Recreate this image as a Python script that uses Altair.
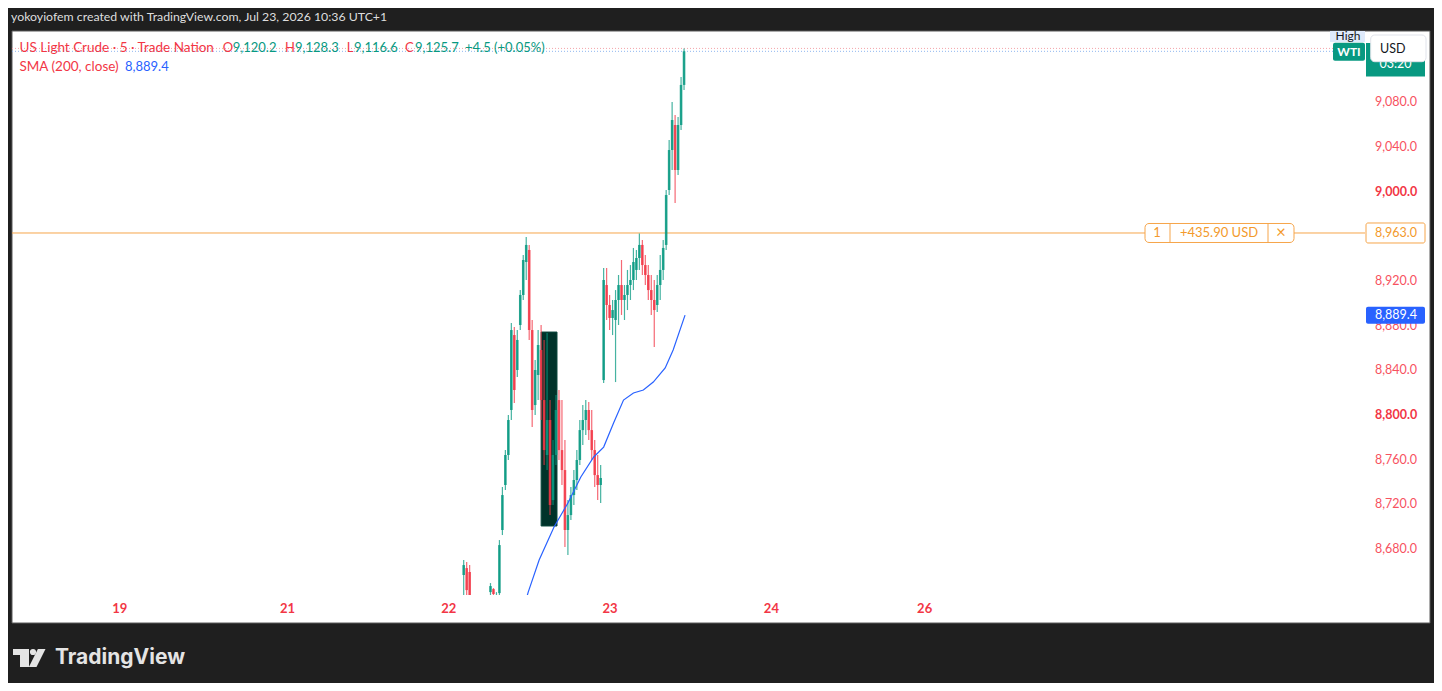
import altair as alt
import numpy as np
import pandas as pd

# ---------------- values ----------------
candle_open = [8656.7, 8662.9, 8659.4, 8634.3, 8625.3, 8616.4, 8616.4, 8625.3, 8629.8, 8641.4,
               8644.1, 8629.8, 8640.5, 8697.0, 8737.3, 8764.2, 8804.5, 8871.6, 8840.3, 8880.6,
               8907.5, 8937.0, 8947.8, 8876.1, 8808.9, 8835.8, 8858.2, 8813.4, 8764.2, 8795.5,
               8723.8, 8764.2, 8813.4, 8768.6, 8750.7, 8697.0, 8710.4, 8728.3, 8741.8, 8759.7,
               8786.5, 8795.5, 8804.5, 8786.5, 8768.6, 8746.2, 8737.3, 8831.3, 8916.4, 8898.5,
               8886.9, 8885.1, 8903.0, 8916.4, 8903.0, 8907.5, 8916.4, 8920.9, 8929.9, 8940.6,
               8952.3, 8934.3, 8925.4, 8911.9, 8903.0, 8898.5, 8916.4, 8929.9, 8952.3, 9001.5,
               9037.3, 9059.7, 9019.4, 9059.7, 9095.6]
candle_high = [8670.1, 8668.3, 8665.6, 8636.1, 8634.3, 8629.8, 8634.3, 8636.1, 8638.8, 8649.5,
               8645.0, 8641.4, 8688.0, 8735.5, 8768.6, 8800.0, 8882.4, 8878.8, 8876.1, 8911.9,
               8943.3, 8959.4, 8952.3, 8885.1, 8849.2, 8876.1, 8880.6, 8867.2, 8873.4, 8813.4,
               8777.6, 8817.9, 8822.4, 8813.4, 8777.6, 8723.8, 8735.5, 8750.7, 8768.6, 8795.5,
               8808.9, 8813.4, 8811.6, 8804.5, 8777.6, 8764.2, 8755.2, 8931.7, 8931.7, 8907.5,
               8903.0, 8911.9, 8925.4, 8938.8, 8916.4, 8929.9, 8934.3, 8949.6, 8947.8, 8962.5,
               8956.7, 8943.3, 8934.3, 8925.4, 8920.9, 8925.4, 8943.3, 8956.7, 9001.5, 9046.3,
               9080.3, 9068.7, 9066.9, 9102.7, 9128.3]
candle_low = [8630.0, 8634.3, 8629.8, 8620.8, 8611.9, 8607.4, 8611.9, 8616.4, 8620.8, 8634.3,
              8634.3, 8625.3, 8632.0, 8692.5, 8732.8, 8759.7, 8795.5, 8810.7, 8834.0, 8876.1,
              8903.0, 8920.9, 8867.2, 8789.2, 8800.0, 8813.4, 8795.5, 8755.2, 8750.7, 8710.4,
              8719.4, 8755.2, 8759.7, 8737.3, 8681.8, 8674.6, 8705.9, 8719.4, 8732.8, 8755.2,
              8773.1, 8782.1, 8777.6, 8759.7, 8735.5, 8723.8, 8721.2, 8828.6, 8885.1, 8876.1,
              8871.6, 8829.5, 8880.6, 8889.6, 8885.1, 8894.0, 8903.0, 8911.9, 8920.9, 8929.9,
              8925.4, 8916.4, 8903.0, 8889.6, 8860.9, 8892.2, 8903.0, 8920.9, 8947.8, 8997.0,
              9019.4, 8989.9, 9015.0, 9055.3, 9091.1]
candle_close = [8665.6, 8643.2, 8636.1, 8625.3, 8616.4, 8611.9, 8625.3, 8629.8, 8634.3, 8646.8,
                8639.7, 8638.8, 8683.5, 8728.3, 8764.2, 8795.5, 8876.1, 8822.4, 8867.2, 8907.5,
                8938.8, 8952.3, 8876.1, 8804.5, 8840.3, 8862.7, 8813.4, 8768.6, 8795.5, 8719.4,
                8764.2, 8804.5, 8768.6, 8750.7, 8697.0, 8710.4, 8728.3, 8741.8, 8759.7, 8786.5,
                8795.5, 8804.5, 8786.5, 8768.6, 8746.2, 8737.3, 8743.6, 8920.9, 8898.5, 8886.9,
                8894.0, 8903.0, 8916.4, 8903.0, 8907.5, 8916.4, 8920.9, 8937.0, 8940.6, 8952.3,
                8934.3, 8925.4, 8911.9, 8903.0, 8894.0, 8916.4, 8929.9, 8949.6, 8997.0, 9037.3,
                9064.2, 9019.4, 9059.7, 9095.6, 9125.7]
bar_start_day = 0.0923      # session days after the "22" mark
bar_step_day = 0.01846      # one drawn candle

sma_day = [0.4615, 0.4923, 0.56, 0.6523, 0.7385, 0.8185, 0.8985, 0.96, 1.0215, 1.0831,
           1.1446, 1.2062, 1.2677, 1.3415, 1.3908, 1.4646]
sma_value = [8625.3, 8641.4, 8670.1, 8699.7, 8721.2, 8744.5, 8762.4, 8771.3, 8792.8, 8813.4,
             8819.7, 8822.4, 8829.5, 8842.1, 8858.2, 8889.4]

zone_day = [0.5723, 0.6708]
zone_price = [8700.6, 8874.3]

position_price = 8963.0
position_qty = "1"
position_pnl = "+435.90 USD"
last_high = 9128.3
last_close = 9125.7
sma_last = 8889.4
countdown = "03:20"

price_ticks = [9080, 9040, 9000, 8920, 8880, 8840, 8800, 8760, 8720, 8680]
day_labels = ["19", "21", "22", "23", "24", "26"]
day_positions = [-2.04, -1.0, 0.0, 1.0, 2.0, 2.95]

byline = "yokoyiofem created with TradingView.com, Jul 23, 2026 10:36 UTC+1"
symbol_title = "US Light Crude · 5 · Trade Nation"
ohlc_letters = ["O", "H", "L", "C"]
ohlc_values = ["9,120.2", "9,128.3", "9,116.6", "9,125.7"]
change_text = "+4.5 (+0.05%)"
sma_title = "SMA (200, close)"

# ---------------- layout / style ----------------
W, H = 1353, 564
FONT = "Lato"
RED = "#f23645"
RED_LIGHT = "#f7525f"
TEAL = "#089981"
BLUE = "#2962ff"
ORANGE = "#f6a54a"
ORANGE_TXT = "#f39a2c"
DARK = "#1f1f1f"

xs = alt.Scale(domain=[-2.677, 5.649], nice=False, zero=False)
ys = alt.Scale(domain=[8638.8, 9143.9], nice=False, zero=False)
ONE = pd.DataFrame({"k": [0]})


def box(x1, x2, y1, y2, fill, stroke=None, radius=0):
    kw = dict(fill=fill, cornerRadius=radius)
    if stroke:
        kw.update(stroke=stroke, strokeWidth=1)
    return alt.Chart(ONE).mark_rect(**kw).encode(
        x=alt.value(x1), x2=alt.value(x2), y=alt.value(y1), y2=alt.value(y2))


def label(txt, x, y, color, size=13, weight="normal", align="left", font=FONT):
    return alt.Chart(ONE).mark_text(text=txt, color=color, fontSize=size, fontWeight=weight,
                                    align=align, baseline="middle", font=font).encode(
        x=alt.value(x), y=alt.value(y))


n = len(candle_open)
candles = pd.DataFrame({
    "day": [bar_start_day + i * bar_step_day for i in range(n)],
    "open": candle_open, "high": candle_high, "low": candle_low, "close": candle_close,
})
candles["dir"] = np.where(candles["close"] >= candles["open"], "up", "down")
color_enc = alt.Color("dir:N", scale=alt.Scale(domain=["up", "down"], range=[TEAL, RED]), legend=None)
X = alt.X("day:Q", scale=xs, axis=None)

layers = []
# chart pane (white) incl. scales
layers.append(box(0, 1418, 0, 592, "white", stroke="#5a5a5a"))

# dotted high / last lines
for p, c in [(last_high, "#f5a3aa"), (last_close, "#8fb6f0")]:
    layers.append(alt.Chart(pd.DataFrame({"p": [p]})).mark_rule(color=c, strokeDash=[1, 2], strokeWidth=1).encode(
        y=alt.Y("p:Q", scale=ys, axis=None), x=alt.value(0), x2=alt.value(1321)))

# position line
pos_df = pd.DataFrame({"p": [position_price]})
layers.append(alt.Chart(pos_df).mark_rule(color=ORANGE, strokeWidth=1).encode(
    y=alt.Y("p:Q", scale=ys, axis=None), x=alt.value(0), x2=alt.value(W)))

# rectangle drawing
zone_df = pd.DataFrame({"d0": [zone_day[0]], "d1": [zone_day[1]], "p0": [zone_price[0]], "p1": [zone_price[1]]})
layers.append(alt.Chart(zone_df).mark_rect(fill="#00332a", stroke="#0d4a3e", strokeWidth=1).encode(
    x=alt.X("d0:Q", scale=xs, axis=None), x2="d1:Q",
    y=alt.Y("p0:Q", scale=ys, axis=None), y2="p1:Q"))

# candles
layers.append(alt.Chart(candles).mark_rule(clip=True, strokeWidth=1.2, opacity=0.75).encode(
    x=X, y=alt.Y("low:Q", scale=ys, axis=None), y2="high:Q", color=color_enc))
layers.append(alt.Chart(candles).mark_bar(clip=True, size=2.6, opacity=0.85).encode(
    x=X, y=alt.Y("open:Q", scale=ys, axis=None), y2="close:Q", color=color_enc))

# SMA
sma_df = pd.DataFrame({"day": sma_day, "v": sma_value})
layers.append(alt.Chart(sma_df).mark_line(clip=True, color=BLUE, strokeWidth=1.2).encode(
    x=X, y=alt.Y("v:Q", scale=ys, axis=None)))

# position label on the line
PY = alt.Y("p:Q", scale=ys, axis=None)
layers.append(alt.Chart(pos_df).mark_rect(fill="white", stroke=ORANGE, strokeWidth=1, cornerRadius=4,
                                          yOffset=-9.5, y2Offset=9.5).encode(
    x=alt.value(1133), x2=alt.value(1282), y=PY, y2="p:Q"))
for xd in (1158, 1256):
    layers.append(alt.Chart(pos_df).mark_rule(color=ORANGE, strokeWidth=1, yOffset=-9.5, y2Offset=9.5).encode(
        x=alt.value(xd), y=PY, y2="p:Q"))
for txt, xc, fs in [(position_qty, 1145, 13), (position_pnl, 1207, 13), ("×", 1269, 17)]:
    layers.append(alt.Chart(pos_df).mark_text(text=txt, color=ORANGE_TXT, fontSize=fs, font=FONT,
                                              align="center", baseline="middle").encode(
        x=alt.value(xc), y=PY))

# price scale labels
ticks_df = pd.DataFrame({"p": price_ticks})
layers.append(alt.Chart(ticks_df).transform_filter("datum.p % 200 != 0").mark_text(
    color=RED_LIGHT, fontSize=12.5, font=FONT, align="left", baseline="middle").encode(
    x=alt.value(1363), y=PY, text=alt.Text("p:Q", format=",.1f")))
layers.append(alt.Chart(ticks_df).transform_filter("datum.p % 200 == 0").mark_text(
    color=RED, fontSize=12.5, font=FONT, fontWeight="bold", align="left", baseline="middle").encode(
    x=alt.value(1363), y=PY, text=alt.Text("p:Q", format=",.1f")))

# time labels
days_df = pd.DataFrame({"d": day_positions, "lab": day_labels})
layers.append(alt.Chart(days_df).mark_text(color=RED, fontSize=13, fontWeight="bold", font=FONT,
                                           align="center", baseline="middle").encode(
    x=alt.X("d:Q", scale=xs, axis=None), y=alt.value(578), text="lab:N"))

# price-scale badges
sma_df1 = pd.DataFrame({"p": [sma_last]})
layers.append(alt.Chart(sma_df1).mark_rect(fill=BLUE, cornerRadius=2, yOffset=-8.5, y2Offset=8.5).encode(
    x=alt.value(1354), x2=alt.value(1413), y=PY, y2="p:Q"))
layers.append(alt.Chart(sma_df1).mark_text(color="white", fontSize=12.5, font=FONT, align="left",
                                           baseline="middle").encode(
    x=alt.value(1363), y=PY, text=alt.Text("p:Q", format=",.1f")))
layers.append(alt.Chart(pos_df).mark_rect(fill="white", stroke=ORANGE, strokeWidth=1, cornerRadius=2,
                                          yOffset=-10, y2Offset=10).encode(
    x=alt.value(1354), x2=alt.value(1413), y=PY, y2="p:Q"))
layers.append(alt.Chart(pos_df).mark_text(color=ORANGE_TXT, fontSize=12.5, font=FONT, align="left",
                                          baseline="middle").encode(
    x=alt.value(1363), y=PY, text=alt.Text("p:Q", format=",.1f")))

layers.append(box(1354, 1413, 12, 45.5, TEAL))
layers.append(label(countdown, 1383.5, 33, "white", 12.5, align="center"))
layers.append(box(1318, 1353, 0, 11, "#dfeafb"))
layers.append(label("High", 1336, 5, "#131722", 12, align="center"))
layers.append(box(1321, 1353, 11.7, 29.7, TEAL, radius=2))
layers.append(label("WTI", 1337, 21, "white", 12, weight="bold", align="center"))
layers.append(box(1358.7, 1414, 4, 30.7, "white", stroke="#e0e3eb", radius=4))
layers.append(label("USD", 1368, 17.5, "#131722", 12.5))

# header texts
layers.append(label(byline, -1, -14.5, "#dedede", 12.3))
layers.append(label(symbol_title, 7.5, 16.5, RED, 13.5))
for lt, vt, lx, vx in zip(ohlc_letters, ohlc_values, [210.7, 273, 334.7, 393], [220.7, 283, 342, 403]):
    layers.append(label(lt, lx, 16.5, RED, 13))
    layers.append(label(vt, vx, 16.5, TEAL, 13))
layers.append(label(change_text, 453, 16.5, TEAL, 13))
layers.append(label(sma_title, 7.5, 35.5, RED, 13.5))
layers.append(label(f"{sma_last:,.1f}", 113, 35.5, BLUE, 13))

# TradingView logo
LOGO = "#e4e4e4"
layers.append(box(1, 17, 618, 624, LOGO))
layers.append(box(8, 17, 618, 636, LOGO))
layers.append(alt.Chart(ONE).mark_point(shape="circle", filled=True, size=38, color=LOGO, opacity=1).encode(
    x=alt.value(21), y=alt.value(621)))
layers.append(alt.Chart(ONE).mark_point(shape="M0.15,-1 L1,-1 L0,1 L-0.85,1 Z", filled=True, size=324,
                                        color=LOGO, opacity=1, strokeWidth=0).encode(
    x=alt.value(24.5), y=alt.value(627)))
layers.append(label("TradingView", 43, 627, LOGO, 21, weight="bold", font="Inter"))

chart = alt.layer(*layers).properties(
    width=W, height=H,
    autosize=alt.AutoSizeParams(type="none"),
    padding={"left": 4, "top": 23, "right": 69, "bottom": 88},
).configure(background=DARK).configure_view(strokeWidth=0)

chart.save("out.html", embed_options={"renderer": "svg", "actions": False})
